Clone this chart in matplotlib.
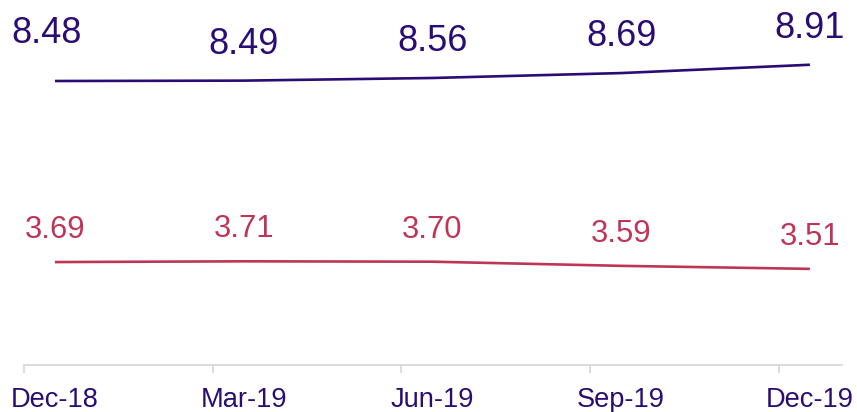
import matplotlib
matplotlib.use("Agg")
import matplotlib.pyplot as plt
import matplotlib.transforms as mtransforms

categories = ["Dec-18", "Mar-19", "Jun-19", "Sep-19", "Dec-19"]
series_top = [8.48, 8.49, 8.56, 8.69, 8.91]
series_bottom = [3.69, 3.71, 3.70, 3.59, 3.51]

PURPLE = "#2a0c74"
RED = "#bf3558"
GRAY = "#d9d9d9"

plt.rcParams['font.family'] = ['Liberation Sans', 'DejaVu Sans']

W, H = 857, 412
fig = plt.figure(figsize=(W / 100, H / 100), dpi=100)
ax = fig.add_axes([24 / W, (H - 365) / H, (842 - 24) / W, 365 / H])

x = list(range(len(categories)))
ax.plot(x, series_top, color=PURPLE, lw=1.9, solid_capstyle='butt')
ax.plot(x, series_bottom, color=RED, lw=1.9, solid_capstyle='butt')

ax.set_xlim(-0.164, 4.17)
ax.set_ylim(0.967, 10.623)

for i, v in enumerate(series_top):
    if i == 0:
        off = (-6, 27.5)
    else:
        off = (0, 19.5)
    ax.annotate(f"{v:.2f}", (i, v), xytext=off, textcoords='offset points',
                ha='center', va='baseline', fontsize=26, color=PURPLE)

for i, v in enumerate(series_bottom):
    ax.annotate(f"{v:.2f}", (i, v), xytext=(0, 17.3), textcoords='offset points',
                ha='center', va='baseline', fontsize=22.3, color=RED)

# axis styling
for s in ['top', 'right', 'left']:
    ax.spines[s].set_visible(False)
ax.spines['bottom'].set_color(GRAY)
ax.spines['bottom'].set_linewidth(1.3)
ax.set_yticks([])
ax.set_xticks([i - 0.164 for i in x])
ax.set_xticklabels([])
ax.tick_params(axis='x', direction='out', length=5.5, width=1.3, color=GRAY)

trans = mtransforms.blended_transform_factory(ax.transData, ax.transAxes)
for i, c in enumerate(categories):
    ax.text(i, -(407 - 365) / 365, c, transform=trans, ha='center', va='baseline',
            fontsize=19.6, color=PURPLE)

fig.savefig("out.png", dpi=100)
